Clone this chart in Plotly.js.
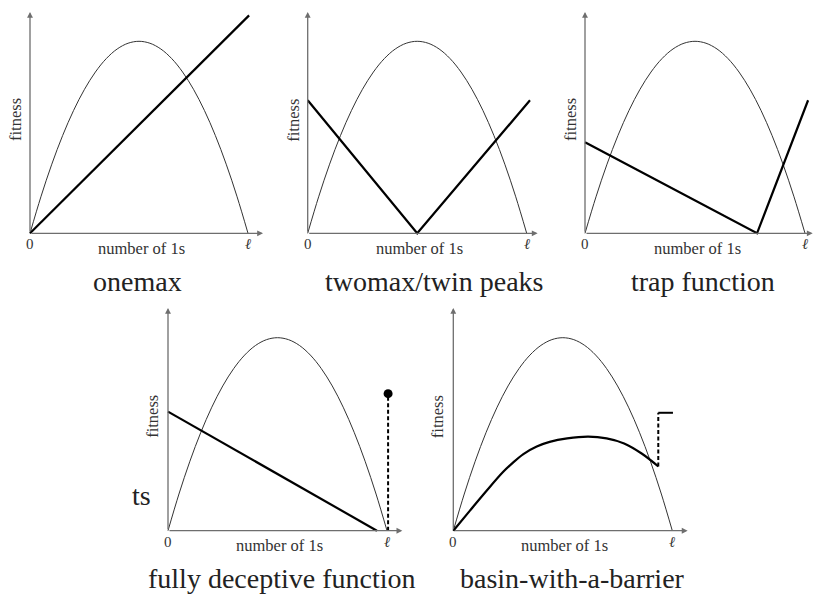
<!DOCTYPE html>
<html><head><meta charset="utf-8">
<script src="https://cdn.plot.ly/plotly-3.0.1.min.js"></script>
<style>body{margin:0;background:#fff}#chart{width:814px;height:594px}</style>
</head><body><div id="chart"></div>
<script>
// x in units of ℓ (string length), y relative to the peak of the thin reference curve
const refX = [0, 0.05, 0.1, 0.15, 0.2, 0.25, 0.3, 0.35, 0.4, 0.45, 0.5, 0.55, 0.6, 0.65, 0.7, 0.75, 0.8, 0.85, 0.9, 0.95, 1.0];
const refY = [0, 0.19, 0.36, 0.51, 0.64, 0.75, 0.84, 0.91, 0.96, 0.99, 1.0, 0.99, 0.96, 0.91, 0.84, 0.75, 0.64, 0.51, 0.36, 0.19, 0];

const onemaxX = [0, 1.005];
const onemaxY = [0, 1.135];
const twomaxX = [0, 0.5, 1.015];
const twomaxY = [0.693, 0, 0.693];
const trapX = [0, 0.782, 1.014];
const trapY = [0.474, 0, 0.693];
const decepX = [0, 0.954];
const decepY = [0.617, 0];
const decepOptX = [1.005, 1.005];
const decepOptY = [0, 0.71];
const basinX = [0, 0.076, 0.152, 0.228, 0.27, 0.32, 0.381, 0.44, 0.52, 0.616, 0.700, 0.78, 0.86, 0.936];
const basinY = [0, 0.104, 0.207, 0.305, 0.35, 0.397, 0.436, 0.46, 0.478, 0.487, 0.478, 0.452, 0.40, 0.333];
const barrierX = [0.936, 0.936];
const barrierY = [0.333, 0.611];
const barrierTopX = [0.936, 1.003];
const barrierTopY = [0.611, 0.611];

const captions = ["onemax", "twomax/twin peaks", "trap function", "fully deceptive function", "basin-with-a-barrier"];
const xLabel = "number of 1s";
const yLabel = "fitness";
const endLabel = "\u2113";
const zeroLabel = "0";
const strayText = "ts";

const W = 814, H = 594;
const FONT = "Liberation Serif, DejaVu Serif, serif";
// pixel geometry of each panel: origin, scale, box
const panels = [
  {x0: 30,    sx: 218, y0: 233.3, sy: 192, box: [2, 270, 4, 262],   arrowX: 1.069, capX: 0.495},
  {x0: 307.7, sx: 219, y0: 233.3, sy: 192, box: [276, 546, 4, 262], arrowX: 1.05,  capX: 0.58},
  {x0: 585,   sx: 220, y0: 233.3, sy: 192, box: [553, 814, 4, 262], arrowX: 1.035, capX: 0.536},
  {x0: 168,   sx: 219, y0: 530.7, sy: 193, box: [140, 410, 300, 562], arrowX: 1.07, capX: 0.52},
  {x0: 453.3, sx: 219, y0: 530.7, sy: 193, box: [425, 700, 300, 562], arrowX: 1.07, capX: 0.545}
];

const layout = {
  width: W, height: H, margin: {l: 0, r: 0, t: 0, b: 0},
  paper_bgcolor: "#fff", plot_bgcolor: "rgba(0,0,0,0)",
  showlegend: false, annotations: [], font: {family: FONT, color: "#222"}
};
const data = [];

panels.forEach((p, i) => {
  const n = i + 1;
  const xa = "xaxis" + (n === 1 ? "" : n), ya = "yaxis" + (n === 1 ? "" : n);
  const xr = "x" + (n === 1 ? "" : n), yr = "y" + (n === 1 ? "" : n);
  const [bl, br, bt, bb] = p.box;
  layout[xa] = {domain: [bl / W, br / W], range: [(bl - p.x0) / p.sx, (br - p.x0) / p.sx], visible: false, fixedrange: true};
  layout[ya] = {domain: [1 - bb / H, 1 - bt / H], range: [(p.y0 - bb) / p.sy, (p.y0 - bt) / p.sy], visible: false, fixedrange: true};
  data.push({x: refX, y: refY, xaxis: xr, yaxis: yr, mode: "lines", line: {color: "#333", width: 1, shape: "spline"}, hoverinfo: "skip"});
  const ax = (headX, headY) => ({
    xref: xr, yref: yr, axref: xr, ayref: yr, x: headX, y: headY, ax: 0, ay: 0,
    text: "", showarrow: true, arrowhead: 2, arrowsize: 0.9, arrowwidth: 1.3, arrowcolor: "#6e6e6e", standoff: 0, startstandoff: 0
  });
  layout.annotations.push(ax(p.arrowX, 0));
  layout.annotations.push(ax(0, (p.y0 - (i < 3 ? 12 : 308)) / p.sy));
  layout.annotations.push({xref: xr, yref: yr, x: 0, y: 0, yshift: -1, yanchor: "top", xanchor: "center", text: zeroLabel, showarrow: false, font: {size: 15, color: "#333"}});
  layout.annotations.push({xref: xr, yref: yr, x: 1, y: 0, yshift: -1, yanchor: "top", xanchor: "center", text: "<i>" + endLabel + "</i>", showarrow: false, font: {size: 15, color: "#333"}});
  layout.annotations.push({xref: xr, yref: yr, x: 0.51, y: 0, yshift: -15, yanchor: "middle", xanchor: "center", text: xLabel, showarrow: false, font: {size: 16.5, color: "#333"}});
  layout.annotations.push({xref: xr, yref: yr, x: 0, y: 0.59, xshift: -15, xanchor: "center", yanchor: "middle", textangle: -90, text: yLabel, showarrow: false, font: {size: 16.5, color: "#333"}});
  layout.annotations.push({xref: xr, yref: yr, x: p.capX, y: 0, yshift: -48, xanchor: "center", yanchor: "middle", text: captions[i], showarrow: false, font: {size: 28, color: "#222"}});
});

const thick = {color: "#000", width: 2.2};
data.push({x: onemaxX, y: onemaxY, xaxis: "x", yaxis: "y", mode: "lines", line: thick});
data.push({x: twomaxX, y: twomaxY, xaxis: "x2", yaxis: "y2", mode: "lines", line: thick});
data.push({x: trapX, y: trapY, xaxis: "x3", yaxis: "y3", mode: "lines", line: thick});
data.push({x: decepX, y: decepY, xaxis: "x4", yaxis: "y4", mode: "lines", line: thick});
data.push({x: decepOptX, y: decepOptY, xaxis: "x4", yaxis: "y4", mode: "lines", line: {color: "#000", width: 2, dash: "4px,2.5px"}});
data.push({x: [decepOptX[1]], y: [decepOptY[1]], xaxis: "x4", yaxis: "y4", mode: "markers", marker: {color: "#000", size: 9}});
data.push({x: basinX, y: basinY, xaxis: "x5", yaxis: "y5", mode: "lines", line: {color: "#000", width: 2.2, shape: "spline", smoothing: 1}});
data.push({x: barrierX, y: barrierY, xaxis: "x5", yaxis: "y5", mode: "lines", line: {color: "#000", width: 2, dash: "4px,2.5px"}});
data.push({x: barrierTopX, y: barrierTopY, xaxis: "x5", yaxis: "y5", mode: "lines", line: {color: "#000", width: 2}});

layout.annotations.push({xref: "paper", yref: "paper", x: 141 / W, y: 1 - 495 / H, xanchor: "center", yanchor: "middle", text: strayText, showarrow: false, font: {size: 28, color: "#222"}});

Plotly.newPlot("chart", data, layout, {staticPlot: true, displayModeBar: false});
</script></body></html>
